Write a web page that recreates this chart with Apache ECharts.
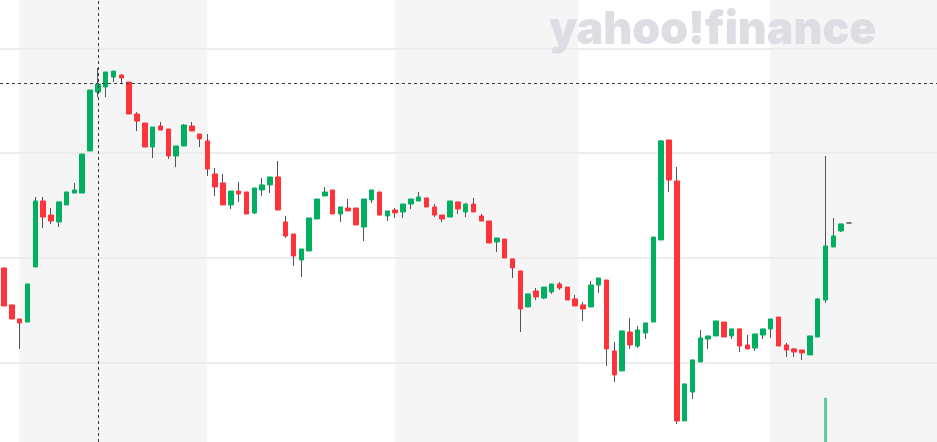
<!DOCTYPE html>
<html>
<head>
<meta charset="utf-8">
<script src="https://cdn.jsdelivr.net/npm/echarts@6/dist/echarts.min.js"></script>
<style>
html,body{margin:0;padding:0;background:#fff;}
#chart{width:937px;height:442px;}
</style>
</head>
<body>
<div id="chart"></div>
<script>
// Daily OHLC values (session index = position in arrays)
const opens = [19.04,15.51,14.17,13.88,19.13,25.43,24.09,23.43,25.05,26.19,
26.19,30.20,35.83,36.31,37.26,37.45,36.78,33.73,32.87,30.58,
32.59,32.30,29.72,30.68,32.59,31.82,31.16,28.01,27.15,25.05,
26.38,26.29,24.29,26.48,26.96,27.72,23.43,22.28,19.80,20.66,
23.71,25.91,26.48,24.19,24.76,24.76,22.95,25.53,26.29,24.00,
24.57,24.38,25.14,25.43,25.72,24.86,24.09,23.90,25.34,24.38,
25.14,24.00,23.52,21.52,21.80,19.90,18.75,15.32,16.84,16.17,
16.75,17.51,17.22,16.08,15.51,15.32,17.41,17.89,11.12,9.21,
12.93,11.59,12.83,13.88,21.71,31.25,27.34,4.44,7.20,10.07,
12.26,12.55,13.88,12.55,13.22,11.69,11.40,12.64,13.22,14.36,
11.69,11.31,11.21,10.74,12.45,15.98,21.04,22.57,23.33];
const closes = [15.41,14.17,13.79,17.51,25.43,23.90,23.52,25.34,26.29,26.48,
29.91,36.02,36.59,37.74,37.83,37.17,33.73,33.06,30.58,32.49,
32.20,29.72,30.68,32.68,32.11,31.35,28.48,26.77,25.05,26.38,
26.10,24.19,26.67,26.96,27.72,24.57,22.09,20.18,20.85,23.81,
25.62,26.29,24.19,24.86,24.48,23.14,25.62,26.48,24.09,24.48,
24.29,25.14,25.62,25.81,24.86,24.09,23.71,25.43,24.67,25.14,
24.38,23.52,21.42,21.90,19.99,19.04,15.12,16.56,16.27,17.22,
17.51,17.13,15.98,15.41,15.12,17.41,18.08,11.31,8.83,13.03,
11.69,13.12,13.79,21.99,31.16,27.43,4.44,7.97,10.26,12.36,
12.55,13.98,12.45,13.22,11.59,11.31,12.74,13.22,14.17,11.59,
11.21,11.02,10.93,12.55,16.08,21.14,22.09,23.24,23.33];
const lows = [15.41,14.17,11.31,13.88,19.13,22.85,23.24,22.95,25.05,26.19,
26.19,30.20,35.35,35.35,36.78,36.59,33.73,32.11,30.58,29.53,
32.20,29.44,28.67,30.68,32.11,30.58,27.82,25.91,25.05,24.67,
25.34,24.19,24.19,25.91,26.19,24.57,21.90,19.23,18.18,20.66,
23.71,25.91,24.19,23.43,24.48,23.14,21.61,25.24,24.09,23.52,
23.81,23.81,24.67,25.43,24.86,23.90,23.43,23.90,24.19,23.90,
24.38,23.52,21.42,20.56,19.99,18.08,12.93,15.32,15.98,16.08,
16.56,16.94,15.98,15.41,13.98,15.32,16.65,9.69,8.16,9.21,
11.31,11.40,12.26,13.88,21.71,26.29,4.15,4.44,6.54,10.07,
11.31,12.55,12.45,12.26,11.02,11.31,11.12,12.26,12.36,11.59,
10.54,10.54,10.26,10.74,12.45,15.70,21.04,22.47,23.33];
const highs = [19.04,15.51,14.17,17.51,25.81,25.81,24.76,25.34,26.29,27.15,
29.91,36.02,38.12,37.74,37.83,37.55,36.78,33.92,32.87,32.49,
32.97,32.30,30.68,32.78,32.97,31.82,31.82,28.58,28.01,26.38,
27.24,26.29,26.67,27.62,27.72,29.25,24.00,22.28,20.85,23.81,
25.62,26.77,26.48,24.86,25.62,24.76,25.62,26.48,26.29,24.48,
24.76,25.14,25.62,26.29,25.72,25.14,24.09,25.43,25.34,25.24,
25.72,24.19,23.52,21.90,21.80,19.90,18.75,16.56,17.13,17.22,
17.51,17.70,17.22,16.46,15.79,17.80,18.08,17.89,11.98,13.03,
14.27,13.50,13.79,21.99,31.25,31.25,28.67,7.97,10.26,13.12,
12.55,13.98,13.88,13.22,13.22,12.64,12.74,13.22,14.17,14.36,
11.88,11.40,11.21,12.55,16.17,29.72,23.81,23.24,23.33];
// Only visible volume bar: [session index, volume]
const volumeBars = [[105, 1.33]];
// Alternating period shading: [start session, end session]
const shadedPeriods = [[1.96, 25.98], [49.97, 73.4], [97.9, 119.25]];
// Crosshair position
const crosshair = { session: 12, price: 36.66 };
// Visible price range
const priceRange = [2.43, 44.61];

const GREEN = '#00b060', RED = '#ff333a', WICK = '#4e545a';

const wickData = opens.map((o, i) => [i, o, closes[i], lows[i], highs[i]]);
const bodyData = opens.map((o, i) => [i, o, closes[i], Math.min(o, closes[i]), Math.max(o, closes[i])]);

const chart = echarts.init(document.getElementById('chart'), null, { renderer: 'canvas' });
chart.setOption({
  backgroundColor: '#ffffff',
  animation: false,
  grid: { left: 0, right: 0, top: 0, bottom: 0, containLabel: false },
  xAxis: {
    type: 'value', min: -0.51, max: 119.25,
    axisLine: { show: false }, axisTick: { show: false }, axisLabel: { show: false },
    splitLine: { show: false }
  },
  yAxis: [{
    type: 'value', min: priceRange[0], max: priceRange[1], splitNumber: 5,
    axisLine: { show: false }, axisTick: { show: false }, axisLabel: { show: false },
    splitLine: { show: true, showMinLine: false, showMaxLine: false, lineStyle: { color: '#ececec', width: 2 } }
  }, {
    type: 'value', min: 0, max: 13.3, show: false, splitLine: { show: false }
  }],
  graphic: [{
    type: 'text', left: 549, top: 7, z: 100, silent: true,
    scaleX: 0.97,
    style: {
      text: 'yahoo!finance', fill: '#dcdee3',
      font: '900 46px Inter, "Noto Sans", sans-serif'
    }
  }],
  series: [{
    type: 'bar', xAxisIndex: 0, yAxisIndex: 1, data: volumeBars, barWidth: 3,
    itemStyle: { color: 'rgba(0,176,96,0.6)' }, silent: true, z: 1
  }, {
    type: 'candlestick', data: wickData, barWidth: 0.3, z: 2, silent: true,
    itemStyle: { color: WICK, color0: WICK, borderColor: WICK, borderColor0: WICK, borderColorDoji: WICK, borderWidth: 1 },
    markArea: {
      silent: true, z: -1,
      itemStyle: { color: '#f5f5f5' },
      data: shadedPeriods.map(p => [{ xAxis: p[0] }, { xAxis: p[1] }])
    }
  }, {
    type: 'candlestick', data: bodyData, barWidth: 5, z: 3, silent: true,
    itemStyle: { color: GREEN, color0: RED, borderColor: GREEN, borderColor0: RED, borderColorDoji: WICK, borderWidth: 1 },
    markLine: {
      silent: true, symbol: 'none', z: 10,
      label: { show: false },
      lineStyle: { color: '#3a3a3a', type: [3, 3], width: 1 },
      data: [{ xAxis: crosshair.session }, { yAxis: crosshair.price }]
    }
  }]
});
</script>
</body>
</html>
